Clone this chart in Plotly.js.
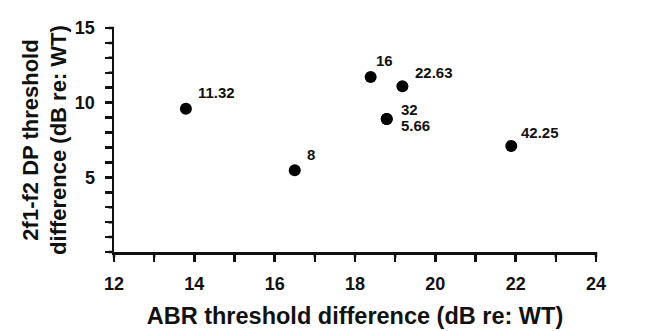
<!DOCTYPE html>
<html>
<head>
<meta charset="utf-8">
<script src="https://cdn.plot.ly/plotly-3.0.1.min.js"></script>
<style>html,body{margin:0;padding:0;background:#fff;}#chart{width:658px;height:331px;}</style>
</head>
<body>
<div id="chart"></div>
<script>
// Data
const labels = ['11.32', '8', '16', '22.63', '32', '5.66', '42.25'];
const abrDiff = [13.79, 16.50, 18.39, 19.18, 18.79, 18.79, 21.89];
const dpDiff = [9.60, 5.47, 11.72, 11.10, 8.91, 8.91, 7.10];
// Tick positions (every unit) and their labels (blank = unlabelled minor tick)
const xTickVals = [12, 13, 14, 15, 16, 17, 18, 19, 20, 21, 22, 23, 24];
const xTickText = ['12', '', '14', '', '16', '', '18', '', '20', '', '22', '', '24'];
const yTickVals = [0, 1, 2, 3, 4, 5, 6, 7, 8, 9, 10, 11, 12, 13, 14, 15];
const yTickText = ['', '', '', '', '', '5', '', '', '', '', '10', '', '', '', '', '15'];

// label placement offsets (pixels), styling only
const labelShift = {
  '11.32': [10, 16], '8': [10, 16], '16': [3, 16], '22.63': [11, 14],
  '32': [12, 9], '5.66': [12, -7], '42.25': [8, 13]
};

const fontFam = 'Liberation Sans, Arial, Helvetica, sans-serif';
const ink = '#111';
const TICKLEN = 7;

const trace = {
  x: abrDiff, y: dpDiff, mode: 'markers', type: 'scatter',
  marker: {color: '#000', size: 12}, hoverinfo: 'skip', cliponaxis: false
};

const pointLabels = labels.map((t, i) => ({
  x: abrDiff[i], y: dpDiff[i], xref: 'x', yref: 'y', text: t,
  showarrow: false, xanchor: 'left', yanchor: 'middle',
  xshift: labelShift[t][0], yshift: labelShift[t][1],
  font: {family: fontFam, size: 15, color: ink, weight: 'bold'}
}));

// Tick marks drawn as arrowless-head annotation stubs anchored on the axes' scales
const tickStub = {
  text: '', showarrow: true, arrowhead: 0, arrowwidth: 2.5, arrowcolor: ink,
  standoff: 0, startstandoff: 0, axref: 'pixel', ayref: 'pixel',
  font: {size: 1}
};
const tickMarks = xTickVals.map(v => Object.assign({}, tickStub, {
  xref: 'x', x: v, yref: 'y', y: 0, ax: 0, ay: TICKLEN
})).concat(yTickVals.map(v => Object.assign({}, tickStub, {
  xref: 'x', x: 12, yref: 'y', y: v, ax: -TICKLEN, ay: 0
})));

function axisBase() {
  return {
    showgrid: false, zeroline: false, showline: true, linecolor: ink, linewidth: 2.5,
    ticks: 'outside', ticklen: TICKLEN, tickwidth: 2.5, tickcolor: ink,
    tickfont: {family: fontFam, size: 18, color: ink, weight: 'bold'}
  };
}

const xaxis = axisBase();
xaxis.range = [12, 24];
xaxis.tickmode = 'array';
xaxis.tickvals = xTickVals;
xaxis.ticktext = xTickText;
xaxis.ticklabelstandoff = 7;
xaxis.title = {text: 'ABR threshold difference (dB re: WT)', standoff: 15,
  font: {family: fontFam, size: 23.5, color: ink, weight: 'bold'}};

const yaxis = axisBase();
yaxis.range = [0, 15];
yaxis.tickmode = 'array';
yaxis.tickvals = yTickVals;
yaxis.ticktext = yTickText;
yaxis.ticklabelstandoff = 6;
yaxis.title = {text: '2f1-f2 DP threshold<br>difference (dB re: WT)', standoff: 2,
  font: {family: fontFam, size: 22, color: ink, weight: 'bold'}};

const layout = {
  width: 658, height: 331,
  margin: {l: 114, r: 62, t: 28, b: 79},
  paper_bgcolor: '#fff', plot_bgcolor: '#fff',
  showlegend: false,
  xaxis: xaxis, yaxis: yaxis,
  annotations: tickMarks.concat(pointLabels)
};

Plotly.newPlot('chart', [trace], layout, {displayModeBar: false, staticPlot: true});
</script>
</body>
</html>
